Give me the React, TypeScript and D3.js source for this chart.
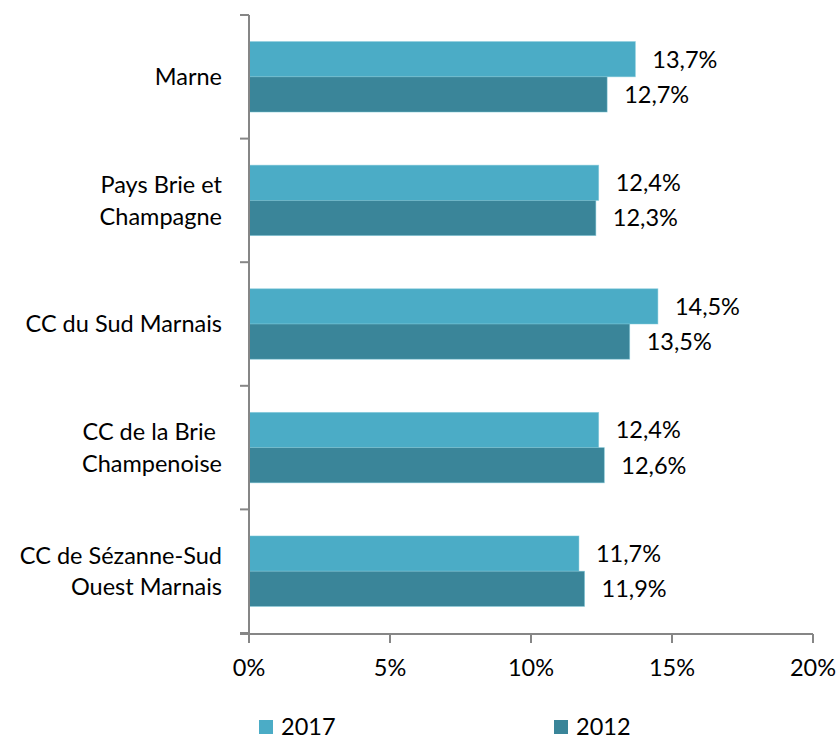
import React from "react";
import * as d3 from "d3";

const categories: string[][] = [
  ["Marne"],
  ["Pays Brie et", "Champagne"],
  ["CC du Sud Marnais"],
  ["CC de la Brie ", "Champenoise"],
  ["CC de Sézanne-Sud", "Ouest Marnais"],
];
const values2017 = [13.7, 12.4, 14.5, 12.4, 11.7];
const values2012 = [12.7, 12.3, 13.5, 12.6, 11.9];
const xTicks = [0, 5, 10, 15, 20];
const seriesNames = ["2017", "2012"];
const colors = ["#4BACC6", "#3A8599"];

const W = 838;
const H = 737;
const FONT = "Lato, 'Open Sans', sans-serif";
const FS = 23.5;

export default function App() {
  const x = d3.scaleLinear().domain([0, 20]).range([249, 813]);
  const y = d3
    .scaleBand<number>()
    .domain(d3.range(categories.length))
    .range([15, 633])
    .paddingInner(0)
    .paddingOuter(0);
  const band = y.bandwidth();
  const pad = band * 0.215;
  const barH = (band - 2 * pad) / 2;
  const series = [values2017, values2012];
  const fmt = (v: number) => v.toFixed(1).replace(".", ",") + "%";

  return (
    <svg
      width={W}
      height={H}
      style={{ position: "absolute", left: 0, top: 0, background: "#fff" }}
      fontFamily={FONT}
    >
      {categories.map((_, i) =>
        series.map((s, j) => {
          const y0 = (y(i) as number) + pad + j * barH;
          return (
            <g key={`${i}-${j}`}>
              <rect
                x={x(0)}
                y={y0}
                width={x(s[i]) - x(0)}
                height={barH}
                fill={colors[j]}
                stroke="#7ec8d8"
                strokeOpacity={0.6}
                strokeWidth={0.8}
              />
              <text
                x={x(s[i]) + 17}
                y={y0 + barH / 2}
                dy="0.36em"
                fontSize={FS}
                fill="#000"
              >
                {fmt(s[i])}
              </text>
            </g>
          );
        })
      )}
      <line x1={x(0)} x2={x(0)} y1={15} y2={634} stroke="#868686" strokeWidth={2} />
      {d3.range(categories.length + 1).map((k) => {
        const yy = 15 + k * band;
        return (
          <line key={k} x1={240} x2={x(0)} y1={yy} y2={yy} stroke="#868686" strokeWidth={2} />
        );
      })}
      {categories.map((lines, i) => {
        const cy = (y(i) as number) + band / 2;
        const lh = 31.5;
        const start = cy - ((lines.length - 1) * lh) / 2;
        return (
          <text key={i} textAnchor="end" fontSize={FS} fill="#000">
            {lines.map((l, k) => (
              <tspan key={k} x={222} y={start + k * lh} dy="0.36em" style={{ whiteSpace: "pre" }}>
                {l}
              </tspan>
            ))}
          </text>
        );
      })}
      <line x1={240} x2={x(20)} y1={634} y2={634} stroke="#868686" strokeWidth={2} />
      {xTicks.map((t) => (
        <g key={t}>
          <line x1={x(t)} x2={x(t)} y1={634} y2={643} stroke="#868686" strokeWidth={2} />
          <text x={x(t)} y={676} textAnchor="middle" fontSize={FS} fill="#000">
            {t + "%"}
          </text>
        </g>
      ))}
      {seriesNames.map((n, j) => {
        const lx = j === 0 ? 259 : 554;
        return (
          <g key={n}>
            <rect x={lx} y={720} width={14} height={14} fill={colors[j]} />
            <text x={lx + 22} y={735} fontSize={FS} fill="#000">
              {n}
            </text>
          </g>
        );
      })}
    </svg>
  );
}
